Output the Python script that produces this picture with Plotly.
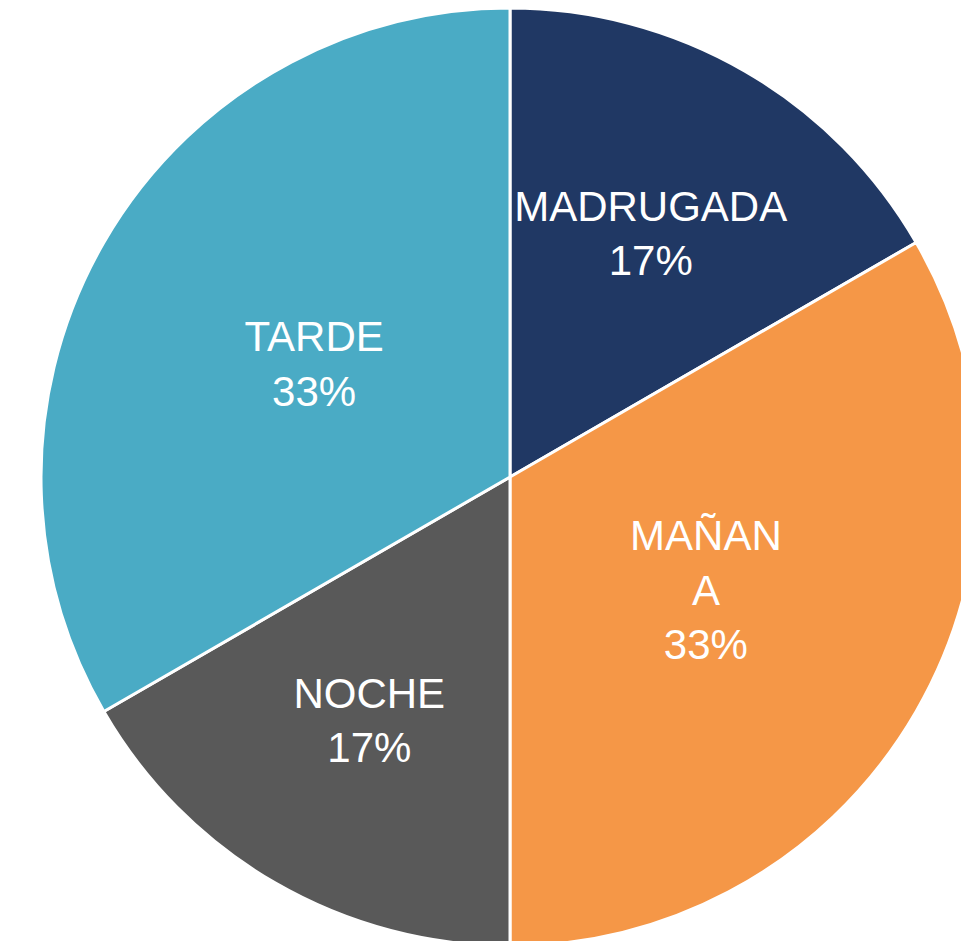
import plotly.graph_objects as go

categories = ["MADRUGADA", "MAÑANA", "NOCHE", "TARDE"]
display_labels = ["MADRUGADA", "MAÑAN<br>A", "NOCHE", "TARDE"]
values = [1, 2, 1, 2]
colors = ["#203864", "#F59747", "#595959", "#4AABC5"]

W, H = 1020, 954
R = 469
K = 0.9  # radius of the (invisible) label layer relative to the pie

common = dict(labels=categories, values=values, sort=False,
              direction="clockwise", rotation=0, showlegend=False)

# Coloured slices
fig = go.Figure(go.Pie(
    **common,
    textinfo="none",
    marker=dict(colors=colors, line=dict(color="white", width=3)),
    hoverinfo="label+percent",
    domain=dict(x=[0.5 - R / W, 0.5 + R / W], y=[0.5 - R / H, 0.5 + R / H]),
))

# Label layer (same data, transparent)
fig.add_trace(go.Pie(
    **common,
    text=display_labels,
    texttemplate="%{text}<br>%{percent:.0%}",
    textposition="inside",
    insidetextorientation="horizontal",
    textfont=dict(family="Liberation Sans, Arial, sans-serif", size=42, color="white"),
    marker=dict(colors=["rgba(0,0,0,0)"] * len(values), line=dict(width=0)),
    hoverinfo="skip",
    domain=dict(x=[0.5 - K * R / W, 0.5 + K * R / W], y=[0.5 - K * R / H, 0.5 + K * R / H]),
))

fig.update_layout(
    width=W, height=H,
    margin=dict(l=0, r=0, t=0, b=0),
    paper_bgcolor="white",
    plot_bgcolor="white",
    uniformtext=dict(minsize=42, mode="show"),
)

fig.write_html(
    "out.html",
    post_script="document.body.style.margin='0';document.body.style.overflow='hidden';",
)
